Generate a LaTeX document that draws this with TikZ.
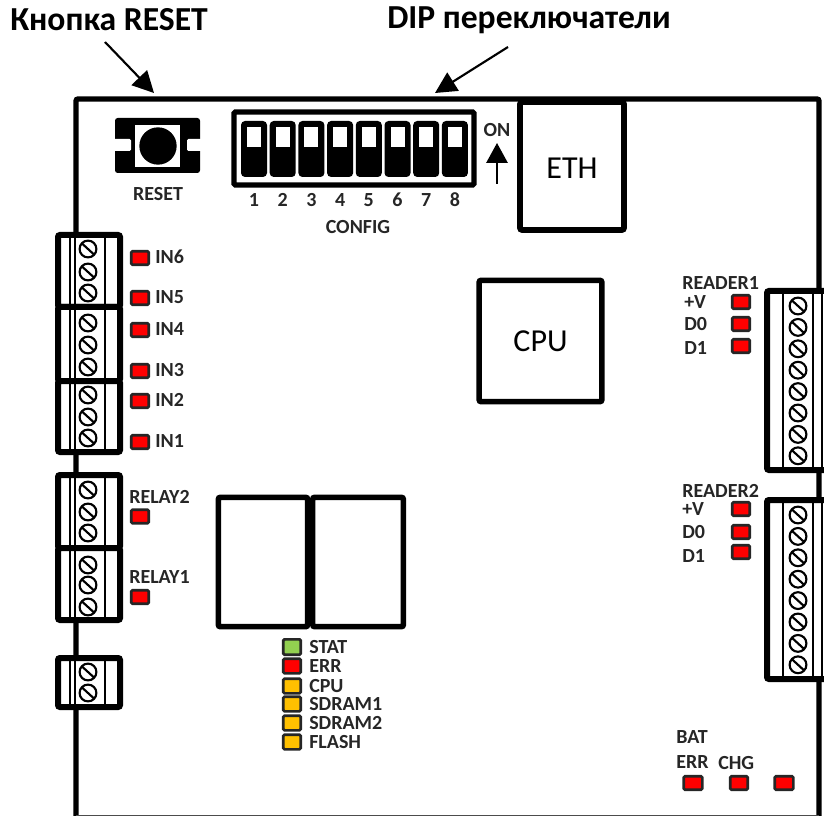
\documentclass[tikz,border=0pt]{standalone}
\usepackage{fontspec}
\setmainfont{Carlito}
\usetikzlibrary{arrows.meta}

\begin{document}
\begin{tikzpicture}[x=0.75pt, y=-0.75pt,
    thick line/.style={line width=4.5pt, rounded corners=1.5pt},
    chipbox/.style={draw, line width=4.2pt, rounded corners=1.5pt, fill=white},
    pointer/.style={line width=1.6pt, -{Triangle[length=16pt, width=16pt]}},
    title/.style={font=\fontsize{25.2}{27}\selectfont\bfseries, inner sep=0pt},
    chiptext/.style={font=\fontsize{24}{26}\selectfont, inner sep=0pt},
    lab/.style={font=\fontsize{15}{16}\selectfont\bfseries, inner sep=0pt, text=black!85},
    led/.style={draw=black!85, line width=2pt, rounded corners=1pt, inner sep=0pt,
        minimum width=13.2pt, minimum height=10.2pt},
    ledred/.style={led, fill=red},
    ledamber/.style={led, fill={rgb,255:red,255;green,192;blue,0}, minimum height=11pt},
    ledgreen/.style={led, fill={rgb,255:red,146;green,208;blue,80}, minimum height=11.5pt},
    screw/.pic={
        \draw[line width=1.6pt] (0,0) circle (6.3pt);
        \draw[line width=1.6pt] (-6,-5.5) -- (6,5.5);
    }]
    \useasboundingbox (0,0) rectangle (824,816);
    \clip (0,0) rectangle (824,816);

    % titles and what they point at
    \node[title, anchor=west] (titlereset) at (10,20) {Кнопка RESET};
    \node[title, anchor=west] (titledip) at (387,20) {DIP переключатели};
    \coordinate (resetfrom) at (105,42);
    \coordinate (resetto) at (154,93);
    \coordinate (dipfrom) at (508,47);
    \coordinate (dipto) at (435,93);
    \draw[pointer] (resetfrom) -- (resetto);
    \draw[pointer] (dipfrom) -- (dipto);

    % board
    \draw[line width=4pt, rounded corners=1.5pt] (76,816) -- (76,99) -- (819,99) -- (819,816);
    \draw[line width=1.2pt, black!70] (76,816) -- (819,816);

    % reset button
    \fill[rounded corners=2pt] (115,118) rectangle (200,173);
    \fill[white, rounded corners=1pt] (112,139) rectangle (131,151);
    \fill[white, rounded corners=1pt] (187,139) rectangle (203,151);
    \fill[white] (135,125) rectangle (180,167);
    \fill (158,146) circle (14pt);
    \node[lab] (labreset) at (158,194) {RESET};

    % dip switches
    \draw[line width=4pt, rounded corners=1pt, fill=white] (234,112) rectangle (474,185);
    \foreach \n in {1,...,8} {
        \pgfmathsetmacro{\xs}{241+28.7*(\n-1)}
        \fill[rounded corners=3pt] (\xs,121) rectangle ++(26,56);
        \fill[white] (\xs+6,127) rectangle ++(14,20);
        \node[lab] (num\n) at (\xs+13,200) {\n};
    }
    \node[lab] (labconfig) at (358,227) {CONFIG};
    \node[lab] (labon) at (497,130) {ON};
    \coordinate (onfrom) at (497,184);
    \coordinate (onto) at (497,143);
    \draw[line width=1.5pt, -{Triangle[length=15pt, width=16pt]}] (onfrom) -- (onto);

    % big chips
    \fill (520,97) rectangle (624,107);
    \node[chipbox, minimum width=78pt, minimum height=96pt, chiptext] (eth) at (572,166) {};
    \node[chiptext] (labeth) at (572,168) {ETH};
    \node[chipbox, minimum width=92pt, minimum height=91pt, chiptext] (cpu) at (540.5,341) {CPU};
    \node[chipbox, minimum width=67pt, minimum height=97pt] (relayA) at (263,562) {};
    \node[chipbox, minimum width=68pt, minimum height=97pt] (relayB) at (358,562) {};

    % left terminals
    \foreach \top/\bot in {235/307,307/381,381/452,475/548,548/620,658/707} {
        \draw[thick line, fill=white] (58,\top) rectangle (120,\bot);
        \draw[line width=0.9pt] (70,\top) -- (70,\bot) (75,\top) -- (75,\bot) (105,\top) -- (105,\bot);
    }
    \foreach \y in {249,272,293,323,345,367,395,417,438,490,512,533,565,585,607,672,693}
        \pic at (88,\y) {screw};

    % right terminals
    \foreach \top/\bot in {291/470,500/679} {
        \draw[thick line, fill=white] (835,\top) -- (767,\top) -- (767,\bot) -- (835,\bot);
        \draw[line width=0.9pt] (783,\top) -- (783,\bot) (813,\top) -- (813,\bot) (822,\top) -- (822,\bot);
        \foreach \n in {0,...,7}
            \pic at (798,\top+15+21.4*\n) {screw};
    }

    % input leds
    \foreach \name/\y in {IN6/258,IN5/298,IN4/330,IN3/371,IN2/401,IN1/442} {
        \node[ledred] (led\name) at (140,\y) {};
        \node[lab, anchor=west] (lab\name) at (155,\y-1) {\name};
    }

    % relay leds
    \node[lab, anchor=west] (labrelaytwo) at (129,497) {RELAY2};
    \node[ledred] (ledrelaytwo) at (140,516.5) {};
    \node[lab, anchor=west] (labrelayone) at (129,577) {RELAY1};
    \node[ledred] (ledrelayone) at (140,597) {};

    % reader leds
    \node[lab, anchor=west] (labreaderone) at (682,283) {READER1};
    \foreach \name/\y in {Va/302,Da/324,Db/346}
        \node[ledred] (led\name) at (741,\y) {};
    \node[lab, anchor=west] (labVa) at (684,302) {+V};
    \node[lab, anchor=west] (labDa) at (684,324) {D0};
    \node[lab, anchor=west] (labDb) at (684,348) {D1};
    \node[lab, anchor=west] (labreadertwo) at (682,491) {READER2};
    \foreach \name/\y in {Vb/509,Dc/532,Dd/552}
        \node[ledred] (led\name) at (741,\y) {};
    \node[lab, anchor=west] (labVb) at (682,509) {+V};
    \node[lab, anchor=west] (labDc) at (682,532) {D0};
    \node[lab, anchor=west] (labDd) at (682,556) {D1};

    % battery leds
    \node[lab, anchor=west] (labbat) at (676,737) {BAT};
    \node[lab, anchor=west] (laberr) at (676,762) {ERR};
    \node[lab, anchor=west] (labchg) at (718,763) {CHG};
    \node[ledred, minimum width=14pt] (ledbaterr) at (693,783) {};
    \node[ledred] (ledchg) at (739,783) {};
    \node[ledred, minimum width=14pt] (ledthird) at (784,783) {};

    % status leds
    \node[ledgreen] (ledstat) at (292,647) {};
    \node[ledred, minimum height=11pt] (lederr) at (292,666) {};
    \foreach \name/\y in {CPU/686,SDRAM1/704,SDRAM2/723,FLASH/742}
        \node[ledamber] (led\name) at (292,\y) {};
    \foreach \name/\y in {STAT/647,ERR/666,CPU/686,SDRAM1/704,SDRAM2/723,FLASH/742}
        \node[lab, anchor=west] (stat\name) at (309,\y) {\name};
\end{tikzpicture}
\end{document}
